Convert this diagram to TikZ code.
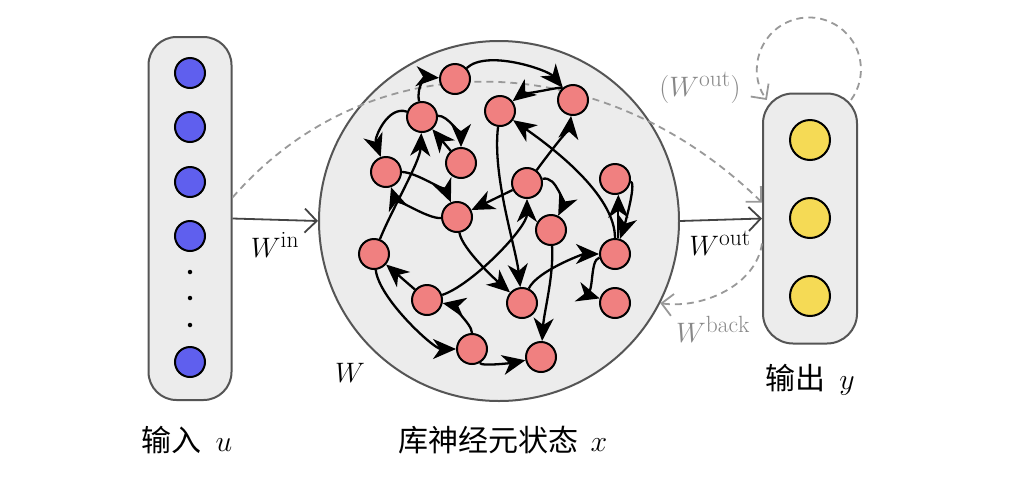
\documentclass[tikz,border=0pt]{standalone}
\usepackage{fontspec}
\newfontfamily\cjk{Noto Sans CJK SC}
\usetikzlibrary{arrows.meta}
\DeclareMathSizes{24.88}{24.88}{20.74}{14.4}
\newcommand\mlabtext[1]{\scalebox{1.13}{$#1$}}
\newcommand\mletter[1]{\scalebox{1.2}{$#1$}}
\definecolor{boxfill}{HTML}{ECECEC}
\definecolor{boxline}{HTML}{555555}
\definecolor{inblue}{HTML}{5F5FEE}
\definecolor{resred}{HTML}{F08080}
\definecolor{outyel}{HTML}{F5DA55}
\definecolor{dashgray}{HTML}{999999}
\definecolor{labgray}{HTML}{888888}
\definecolor{arrowgray}{HTML}{444444}
\tikzset{
  container/.style={draw=boxline, line width=2pt, fill=boxfill, inner sep=0pt},
  inneuron/.style={circle, draw=black, line width=2pt, fill=inblue, minimum size=30pt, inner sep=0pt},
  resneuron/.style={circle, draw=black, line width=2pt, fill=resred, minimum size=30pt, inner sep=0pt},
  outneuron/.style={circle, draw=black, line width=2pt, fill=outyel, minimum size=40pt, inner sep=0pt},
  resedge/.style={line width=2.3pt, -{Stealth[length=23pt,width=20pt,inset=7pt]}},
  mainarrow/.style={draw=arrowgray, line width=1.8pt, -{Straight Barb[length=12pt,width=24pt,line width=1.8pt]}},
  dasharrow/.style={draw=dashgray, line width=1.8pt, dash pattern=on 7pt off 5pt, -{Straight Barb[length=11pt,width=22pt,line width=1.8pt]}},
  mlab/.style={font=\fontsize{24.88}{28}\selectfont},
  clab/.style={font=\fontsize{30}{34}\selectfont},
  dotmark/.style={circle, fill=black, minimum size=4.5pt, inner sep=0pt}
}
\begin{document}
\begin{tikzpicture}[x=1pt,y=-1pt]
\useasboundingbox (0,0) rectangle (1031,483);
\fill[white] (0,0) rectangle (1031,483);

% containers
\node[container, rounded corners=28pt, minimum width=83pt, minimum height=363pt] (inbox) at (190,218.5) {};
\node[container, circle, minimum size=360pt] (res) at (499,221) {};
\node[container, rounded corners=30pt, minimum width=94pt, minimum height=250pt] (outbox) at (810,218.5) {};

% input neurons
\node[inneuron] (u1) at (190,73) {};
\node[inneuron] (u2) at (190,127) {};
\node[inneuron] (u3) at (190,182) {};
\node[inneuron] (u4) at (190,236) {};
\node[dotmark] (d1) at (190,272) {};
\node[dotmark] (d2) at (190,298) {};
\node[dotmark] (d3) at (190,325) {};
\node[inneuron] (u5) at (190,362) {};

% output neurons
\node[outneuron] (y1) at (810,140) {};
\node[outneuron] (y2) at (810,218) {};
\node[outneuron] (y3) at (810,296) {};

% dashed arrows (under reservoir nodes)
\draw[dasharrow] ([yshift=21pt]inbox.east) .. controls (370,40) and (600,45) .. ([yshift=16pt]outbox.west);
\coordinate (loopS) at (851,100);
\draw[dasharrow] (loopS) arc[start angle=36, end angle=-216, radius=52];
\draw[dasharrow] ([yshift=-25pt]outbox.west) .. controls +(-6,42) and +(42,6) .. (res.-27);

% main arrows
\draw[mainarrow] (inbox.east) -- (res.west);
\draw[mainarrow] (res.east) -- (outbox.west);

% reservoir neurons
\node[resneuron] (n1) at (455,79) {};
\node[resneuron] (n2) at (573,100) {};
\node[resneuron] (n3) at (500,111) {};
\node[resneuron] (n4) at (422,117) {};
\node[resneuron] (n5) at (461,163) {};
\node[resneuron] (n6) at (386,172) {};
\node[resneuron] (n7) at (527,183) {};
\node[resneuron] (n8) at (615,179) {};
\node[resneuron] (n9) at (457,217) {};
\node[resneuron] (n10) at (551,230) {};
\node[resneuron] (n11) at (374,254) {};
\node[resneuron] (n12) at (615,254) {};
\node[resneuron] (n13) at (427,300) {};
\node[resneuron] (n14) at (522,303) {};
\node[resneuron] (n15) at (615,303) {};
\node[resneuron] (n16) at (472,349) {};
\node[resneuron] (n17) at (541,357) {};

% reservoir edges
\draw[resedge] (n4) .. controls +(-6,-32) and +(-28,-2) .. (n1);
\draw[resedge] (n1) .. controls +(32,-30) and +(-25,-30) .. (n2);
\draw[resedge] (n2) .. controls +(-12,-14) and +(18,-14) .. (n3);
\draw[resedge] (n4) .. controls +(-34,-12) and +(-12,-34) .. (n6);
\draw[resedge] (n4) .. controls +(26,-2) and +(0,-26) .. (n5);
\draw[resedge] (n5) -- (n4);
\draw[resedge] (n6) .. controls +(30,0) and +(-10,-24) .. (n9);
\draw[resedge] (n9) .. controls +(-30,2) and +(8,24) .. (n6);
\draw[resedge] (n11) .. controls +(18,-45) and +(-2,45) .. (n4);
\draw[resedge] (n7) -- (n9);
\draw[resedge] (n7) .. controls +(15,-20) and +(-3,25) .. (n2);
\draw[resedge] (n7) .. controls +(30,-8) and +(12,-24) .. (n10);
\draw[resedge] (n13) .. controls +(45,-15) and +(0,45) .. (n7);
\draw[resedge] (n9) .. controls +(5,32) and +(-25,-22) .. (n14);
\draw[resedge] (n3) .. controls +(-8,65) and +(-6,-55) .. (n14);
\draw[resedge] (n13) -- (n11);
\draw[resedge] (n16) .. controls +(0,-26) and +(20,4) .. (n13);
\draw[resedge] (n14) .. controls +(15,-32) and +(-32,0) .. (n12);
\draw[resedge] (n10) .. controls +(3,45) and +(3,-45) .. (n17);
\draw[resedge] (n12) .. controls +(0,-60) and +(50,35) .. (n3);
\draw[resedge] (n12.78) -- (n8.-78);
\draw[resedge] (n8) .. controls +(22,4) and +(8,-24) .. (n12);
\draw[resedge] (n12) .. controls +(-26,6) and +(-20,-6) .. (n15);
\draw[resedge] (n16) .. controls +(10,18) and +(-24,5) .. (n17);
\draw[resedge] (n11) .. controls +(5,45) and +(-38,0) .. (n16);

% labels
\node[mlab] (lwin) at (275,245) {\mlabtext{W^{\mathrm{in}}}};
\node[mlab] (lwout) at (720,243) {\mlabtext{W^{\mathrm{out}}}};
\node[mlab, text=labgray] (lwoutp) at (700,88) {\mlabtext{(W^{\mathrm{out}})}};
\node[mlab, text=labgray] (lwback) at (713,329) {\mlabtext{W^{\mathrm{back}}}};
\node[mlab] (lw) at (350,373) {\mlabtext{W}};
\node[clab] (lin) at (187,440) {\cjk 输入\hspace{14pt}\mletter{u}};
\node[clab] (lres) at (503,440) {\cjk 库神经元状态\hspace{12pt}\mletter{x}};
\node[clab] (lout) at (810,380) {\cjk 输出\hspace{14pt}\mletter{y}};
\end{tikzpicture}
\end{document}
